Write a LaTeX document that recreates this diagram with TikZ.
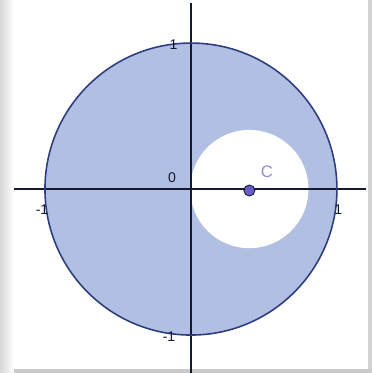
\documentclass[tikz,border=0pt]{standalone}
\usepackage{fontspec}
\setmainfont{Liberation Sans}
\usepackage{xcolor}
\usetikzlibrary{positioning, calc}
\definecolor{diskblue}{RGB}{177,191,226}
\definecolor{diskedge}{RGB}{45,62,128}
\definecolor{axisdark}{RGB}{20,24,48}
\definecolor{ptpurple}{RGB}{104,92,200}
\definecolor{lblpurple}{RGB}{150,140,214}
\definecolor{framegray}{RGB}{190,190,190}

\tikzset{
  ticklabel/.style={font=\fontsize{8}{9}\selectfont, text=axisdark, inner sep=0pt},
  axisline/.style={draw=axisdark, line width=0.9pt},
}

\begin{document}
\begin{tikzpicture}[x=2.92cm, y=2.92cm]
\useasboundingbox (-1.308,-1.260) rectangle (1.240,1.295);

% Frame with soft shadow
\shade[left color=framegray!60, right color=white] (-1.308,-1.260) rectangle (-1.212,1.295);
\fill[framegray!80] (-1.212,-1.260) rectangle (1.240,-1.233);
\fill[framegray!70] (1.212,-1.233) rectangle (1.240,1.295);

% Disk minus the small disk
\fill[diskblue] (0,0) circle (1);
\fill[white] (0.4,0) circle (0.405);

% Axes
\coordinate (xl) at (-1.212,0);
\coordinate (xr) at (1.199,0);
\coordinate (yb) at (0,-1.260);
\coordinate (yt) at (0,1.274);
\draw[axisline] (xl) -- (xr);
\draw[axisline] (yb) -- (yt);

% Unit circle
\draw[diskedge, line width=0.9pt] (0,0) circle (1);

% Tick labels
\node[ticklabel] (top) at (-0.12,0.99) {1};
\node[ticklabel] (bot) at (-0.15,-1.01) {-1};
\node[ticklabel] (lft) at (-1.02,-0.14) {-1};
\node[ticklabel] (rgt) at (1.01,-0.14) {1};
\node[ticklabel] (orig) at (-0.13,0.075) {0};

% Center point
\node[circle, fill=ptpurple, draw=axisdark, line width=0.5pt, inner sep=0pt, minimum size=0.22cm] (C) at (0.4,-0.01) {};
\node[font=\fontsize{9.5}{11}\selectfont, text=lblpurple, inner sep=0pt] (Clbl) at (0.52,0.12) {C};

\end{tikzpicture}
\end{document}
